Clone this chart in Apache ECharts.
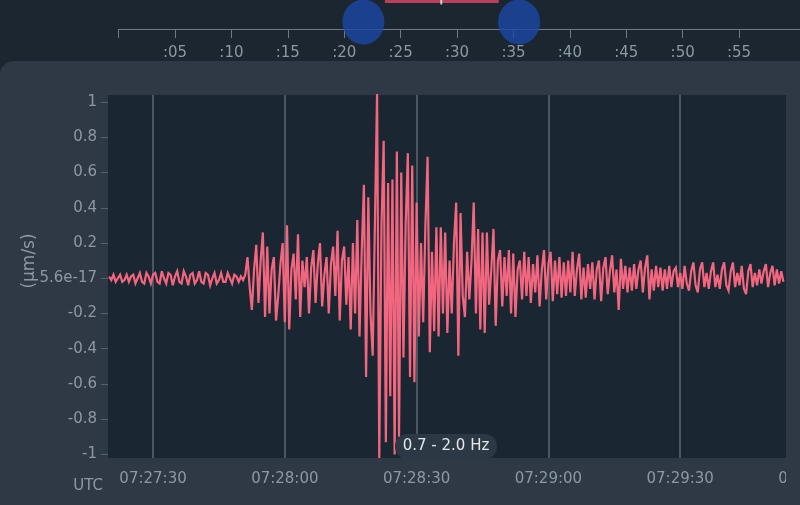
<!DOCTYPE html>
<html><head><meta charset="utf-8">
<script src="https://cdn.jsdelivr.net/npm/echarts@6/dist/echarts.min.js"></script>
<style>
html,body{margin:0;padding:0;background:#1b2631;width:800px;height:505px;overflow:hidden}
#panel{position:absolute;left:0;top:61px;width:800px;height:444px;background:#2e3945;border-top-left-radius:14px}
#chart{position:absolute;left:0;top:0;width:800px;height:505px}
</style></head><body>
<div id="panel"></div><div id="chart"></div>
<script>
// ---- data ----
// samples: seconds after 07:27:00, one every 0.5 s starting at 20 s
const sampleStart = 20;
const sampleStep = 0.5;
const velocity = [
  // quiet pre-event
  0.01,-0.01,0.02,-0.02,0.00,0.02,-0.02,-0.01,0.02,-0.02,
  0.01,0.02,-0.03,0.00,0.03,-0.02,-0.03,0.03,0.01,-0.03,
  0.02,0.03,-0.02,-0.03,0.04,0.00,-0.03,0.03,0.02,-0.04,
  0.01,0.04,-0.02,-0.03,0.04,0.01,-0.04,0.02,0.03,-0.03,
  -0.01,0.04,-0.02,-0.03,0.03,0.02,-0.04,0.00,0.03,-0.03,
  -0.01,0.03,-0.02,-0.02,0.03,0.00,-0.03,0.02,0.01,-0.02,
  0.01,-0.01,
  // P onset
  0.02,0.12,-0.05,-0.18,0.05,0.19,-0.14,0.10,0.26,-0.22,
  0.18,-0.20,0.05,0.12,-0.24,-0.10,0.08,0.20,-0.25,0.30,
  -0.29,0.05,0.14,-0.12,0.25,-0.22,0.10,-0.05,0.12,-0.20,
  0.06,0.16,-0.14,0.08,0.20,-0.16,0.02,0.12,-0.20,0.08,
  0.18,-0.10,0.27,-0.24,0.10,
  // strong phase
  0.18,-0.15,0.12,-0.29,0.20,-0.20,0.33,-0.33,0.15,0.53,
  -0.56,0.46,-0.20,-0.44,0.30,1.06,-1.02,0.30,0.78,-0.93,
  0.54,-0.67,0.56,-1.00,0.72,-0.90,0.60,-0.45,0.30,0.71,
  -0.56,0.64,-0.59,0.43,-0.33,0.20,-0.25,0.30,0.69,-0.42,
  0.15,-0.30,0.29,-0.33,0.29,-0.20,0.26,-0.31,0.10,-0.20,
  0.20,0.43,-0.44,0.37,
  // decay
  -0.10,-0.22,0.15,-0.12,0.10,0.43,-0.20,0.28,-0.29,0.26,
  -0.31,0.26,-0.15,0.05,0.28,-0.27,0.10,0.16,-0.16,0.12,
  -0.10,0.16,-0.20,0.14,-0.22,0.05,0.10,-0.12,0.15,-0.10,
  0.12,-0.14,0.08,-0.08,0.13,-0.16,0.05,0.16,-0.12,0.08,
  0.15,-0.13,0.10,-0.09,0.12,-0.11,0.09,-0.10,0.10,-0.08,
  // coda
  0.15,-0.10,0.05,0.14,-0.12,0.06,-0.11,0.08,-0.06,0.09,
  -0.12,0.05,0.10,-0.13,0.06,0.12,-0.09,0.04,0.13,-0.08,
  0.05,-0.18,0.11,-0.06,0.07,-0.08,0.06,-0.07,0.08,-0.06,
  0.05,0.10,-0.08,0.06,0.13,-0.12,0.05,-0.07,0.07,-0.05,
  0.06,-0.07,0.05,-0.06,0.07,-0.05,0.04,0.06,-0.05,0.03,
  -0.06,0.07,-0.03,-0.07,0.04,0.09,-0.04,-0.08,0.05,0.09,
  -0.05,0.03,-0.06,0.04,0.09,-0.05,0.02,-0.06,0.05,0.09,
  -0.04,-0.07,0.04,0.09,-0.05,0.03,-0.04,0.07,-0.06,-0.09,
  0.04,0.08,-0.05,0.03,-0.04,0.05,-0.03,0.04,0.08,-0.05,
  0.03,0.07,-0.04,0.05,-0.03,0.04,-0.02
];
const xMin = 19.75, xMax = 180;
const xTicks = [30, 60, 90, 120, 150, 180];
const xTickLabels = ['07:27:30','07:28:00','07:28:30','07:29:00','07:29:30','07:30:00'];
const yTicks = [-1,-0.8,-0.6,-0.4,-0.2,0,0.2,0.4,0.6,0.8,1];
const yTickLabels = ['-1','-0.8','-0.6','-0.4','-0.2','5.6e-17','0.2','0.4','0.6','0.8','1'];
const yMin = -1.02, yMax = 1.04;
const yName = '(μm/s)';
const xName = 'UTC';
const filterLabel = '0.7 - 2.0 Hz';
// top minute slider
const sliderTicks = [0,5,10,15,20,25,30,35,40,45,50,55];
const sliderLabels = ['',':05',':10',':15',':20',':25',':30',':35',':40',':45',':50',':55'];
const sliderHandles = [21.7, 35.5];
const sliderWindow = [23.6, 33.7];
const sliderMarker = [28.6];

// ---- chart ----
const FONT = '"DejaVu Sans", sans-serif';
const labelColor = '#8d98a3';
const gridColor = '#4a5763';
const pick = (arr, lbl, v) => { for (let i = 0; i < arr.length; i++) if (Math.abs(arr[i] - v) < 1e-6) return lbl[i]; return ''; };

const wave = velocity.map((v, i) => [sampleStart + i * sampleStep, v]);

const chart = echarts.init(document.getElementById('chart'), null, {renderer: 'canvas'});
chart.setOption({
  animation: false,
  backgroundColor: 'transparent',
  grid: [
    {left: 108, top: 95, width: 704, height: 363, show: true, backgroundColor: '#1a2631', borderWidth: 0, outerBoundsMode: 'none'},
    {left: 118.6, top: 0, width: 681.4, height: 29, show: false, outerBoundsMode: 'none'}
  ],
  xAxis: [
    {gridIndex: 0, type: 'value', min: xMin, max: xMax,
     axisLine: {show: false},
     axisTick: {show: true, customValues: xTicks, length: 8, lineStyle: {color: gridColor, width: 2}},
     splitLine: {show: true, lineStyle: {color: gridColor, width: 2}},
     axisLabel: {customValues: xTicks, formatter: v => pick(xTicks, xTickLabels, v), color: labelColor, fontFamily: FONT, fontSize: 15, margin: 14}},
    {gridIndex: 1, type: 'value', min: 0, max: 60.4,
     axisLine: {show: true, lineStyle: {color: '#6e7a85', width: 1}},
     axisTick: {show: true, customValues: sliderTicks, length: 9, lineStyle: {color: '#6e7a85', width: 1}},
     splitLine: {show: false},
     axisLabel: {customValues: sliderTicks.slice(1), formatter: v => pick(sliderTicks, sliderLabels, v), color: labelColor, fontFamily: FONT, fontSize: 15, margin: 17}}
  ],
  yAxis: [
    {gridIndex: 0, type: 'value', min: yMin, max: yMax,
     axisLine: {show: false},
     axisTick: {show: true, customValues: yTicks, length: 7, lineStyle: {color: '#55626d', width: 1}},
     splitLine: {show: false},
     axisLabel: {customValues: yTicks, formatter: v => pick(yTicks, yTickLabels, v), color: labelColor, fontFamily: FONT, fontSize: 15, margin: 11}},
    {gridIndex: 1, type: 'value', min: 0, max: 29, show: false}
  ],
  series: [
    {type: 'line', xAxisIndex: 0, yAxisIndex: 0, data: wave, showSymbol: false, symbol: 'none',
     lineStyle: {color: '#f2677f', width: 2.2, join: 'miter', miterLimit: 4}, clip: true, z: 3, sampling: null},
    {type: 'line', xAxisIndex: 1, yAxisIndex: 1, data: sliderWindow.map(v => [v, 27.5]), symbol: 'none',
     lineStyle: {color: '#b8405f', width: 3}, z: 4, clip: false},
    {type: 'scatter', xAxisIndex: 1, yAxisIndex: 1, data: sliderMarker.map(v => [v, 27.5]), symbol: 'rect', symbolSize: [2, 6],
     itemStyle: {color: '#e8e8ea'}, z: 5, clip: false},
    {type: 'scatter', xAxisIndex: 1, yAxisIndex: 1, data: sliderHandles.map(v => [v, 7]), symbol: 'circle', symbolSize: [42, 45],
     itemStyle: {color: '#1b47a5'}, z: 6, clip: false}
  ],
  graphic: [
    {type: 'rect', z: 100, shape: {x: 786, y: 61, width: 14, height: 444}, style: {fill: '#2e3945'}},
    {type: 'text', z: 100, x: 30, y: 261, rotation: Math.PI / 2,
     style: {text: yName, fill: labelColor, font: '17px "DejaVu Sans"', align: 'center', verticalAlign: 'middle'}},
    {type: 'text', z: 100, x: 103, y: 486,
     style: {text: xName, fill: labelColor, font: '15px "DejaVu Sans"', align: 'right', verticalAlign: 'middle'}},
    {type: 'rect', z: 100, shape: {x: 395, y: 434, width: 102, height: 25, r: 12}, style: {fill: '#2c3843'}},
    {type: 'text', z: 101, x: 446, y: 446.5,
     style: {text: filterLabel, fill: '#e2e6ea', font: '15px "DejaVu Sans"', align: 'center', verticalAlign: 'middle'}}
  ]
});
</script></body></html>
